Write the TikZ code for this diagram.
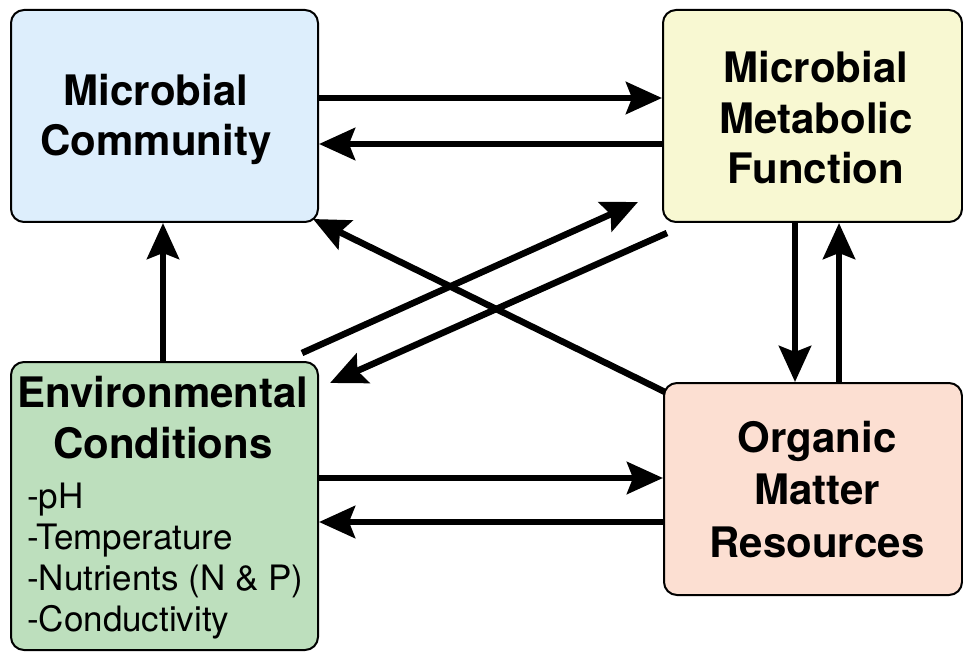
\documentclass[tikz,border=0pt]{standalone}
\usepackage{fontspec}
\setmainfont{TeX Gyre Heros}
\usetikzlibrary{arrows.meta}
\definecolor{cmc}{HTML}{DDEEFC}
\definecolor{cmmf}{HTML}{F8F8D2}
\definecolor{cec}{HTML}{BDDFBD}
\definecolor{comr}{HTML}{FCDFD2}
\begin{document}
\begin{tikzpicture}[x=1pt,y=-1pt,
  box/.style={draw=black,line width=2pt,rounded corners=13pt,inner sep=0pt},
  ttl/.style={font=\fontsize{42}{51}\selectfont\bfseries,align=center,anchor=base,inner sep=0pt},
  lst/.style={font=\fontsize{35}{41}\selectfont,align=left,anchor=base west,inner sep=0pt},
  arr/.style={line width=6.5pt,-{Stealth[length=36pt,width=32pt,inset=6pt]}}]
\useasboundingbox (0,0) rectangle (963,652);
% boxes
\node[box,fill=cmc,minimum width=307pt,minimum height=212pt] (mc) at (164.5,116) {};
\node[box,fill=cmmf,minimum width=299pt,minimum height=212pt] (mmf) at (812.5,116) {};
\node[box,fill=cec,minimum width=307pt,minimum height=288pt] (ec) at (164.5,506) {};
\node[box,fill=comr,minimum width=298pt,minimum height=212pt] (omr) at (813,489) {};
% texts
\node[ttl,font=\fontsize{42}{50}\selectfont\bfseries] (mct) at (156,156) {Microbial\\Community};
\node[ttl,font=\fontsize{42}{50.5}\selectfont\bfseries] (mmft) at (816,184) {Microbial\\Metabolic\\Function};
\node[ttl,font=\fontsize{42}{52.5}\selectfont\bfseries] (omrt) at (817,557) {Organic\\Matter\\Resources};
\node[ttl] (ect) at (163,458) {Environmental\\Conditions};
\node[lst] (ecl) at (27,631) {-pH\\-Temperature\\-Nutrients (N \& P)\\-Conductivity};
% free ends of diagonal connectors
\coordinate (d1s) at (302,353);
\coordinate (d1e) at (638,202);
\coordinate (d2s) at (667,233);
\coordinate (d2e) at (330,383);
\coordinate (d3s) at (665,392);
\coordinate (d3e) at (313,219);
% connectors
\draw[arr] (mc.east |- 0,98) -- (mmf.west |- 0,98);
\draw[arr] (mmf.west |- 0,144) -- (mc.east |- 0,144);
\draw[arr] (ec.east |- 0,478) -- (omr.west |- 0,478);
\draw[arr] (omr.west |- 0,522) -- (ec.east |- 0,522);
\draw[arr] (ec.north -| 163,0) -- (mc.south -| 163,0);
\draw[arr] (mmf.south -| 795,0) -- (omr.north -| 795,0);
\draw[arr] (omr.north -| 839,0) -- (mmf.south -| 839,0);
\draw[arr] (d1s) -- (d1e);
\draw[arr] (d2s) -- (d2e);
\draw[arr] (d3s) -- (d3e);
\end{tikzpicture}
\end{document}
